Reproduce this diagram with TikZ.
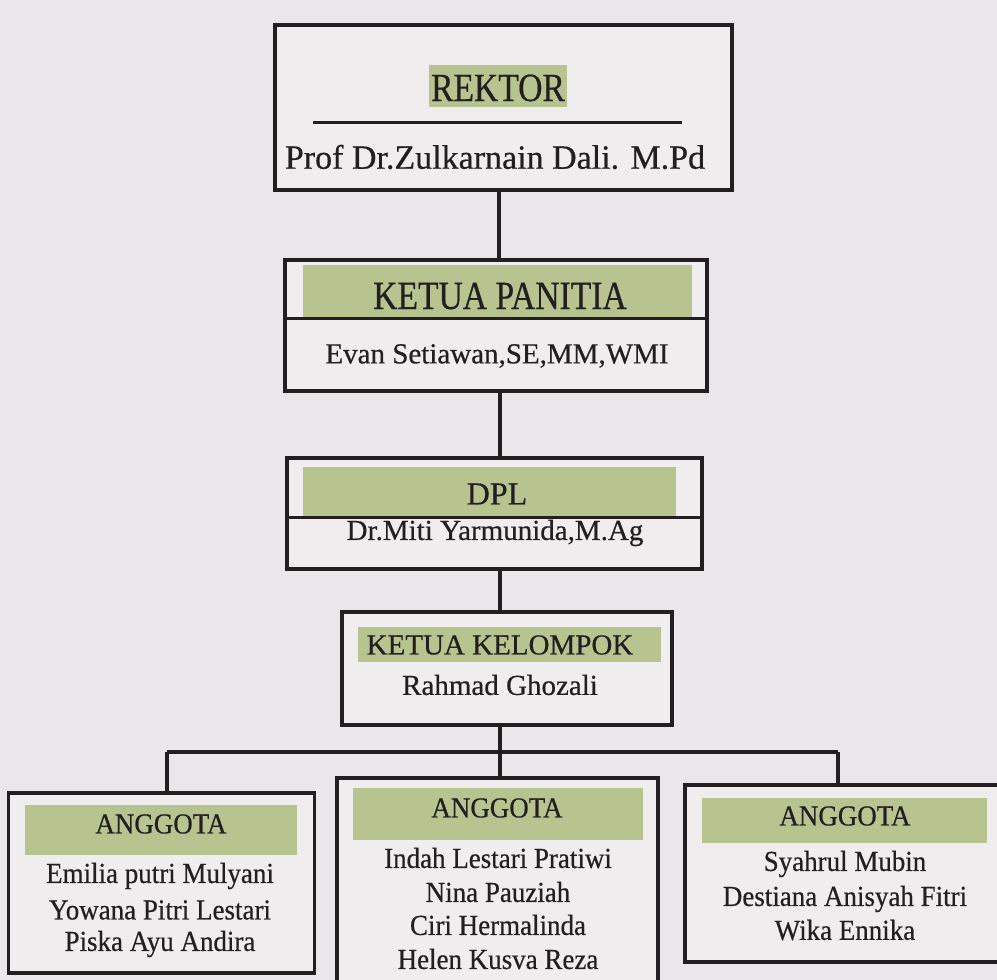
\documentclass[tikz,border=0pt]{standalone}
\usepackage{fontspec}
\setmainfont[FakeBold=0.5]{Liberation Serif}
\newfontfamily\narrowfont[FakeStretch=0.84,FakeBold=0.5]{Liberation Serif}
\newfontfamily\nameserif[FakeStretch=0.93,FakeBold=0.5]{Liberation Serif}
\definecolor{paper}{HTML}{EAE6E9}
\definecolor{paperlight}{HTML}{EFEDEE}
\definecolor{bandgreen}{HTML}{B8C490}
\definecolor{ink}{HTML}{231E20}
\begin{document}
\begin{tikzpicture}[x=1pt,y=-1pt,
  box/.style={draw=ink, line width=3.5pt, fill=paperlight, inner sep=0pt},
  band/.style={fill=bandgreen, draw=none, inner sep=0pt},
  conn/.style={draw=ink, line width=3.5pt},
  txt/.style={text=ink, inner sep=0pt},
  big/.style={txt, font=\fontsize{34}{40}\selectfont},
  mid/.style={txt, font=\fontsize{29}{34}\selectfont},
  small/.style={txt, font=\nameserif\fontsize{29}{32}\selectfont}]
\useasboundingbox (0,0) rectangle (997,980);
\fill[paper] (0,0) rectangle (997,980);
\clip (0,0) rectangle (997,980);

% REKTOR
\node[box, minimum width=457pt, minimum height=165pt] (rek) at (503.5,107.5) {};
\node[band, minimum width=138pt, minimum height=42pt] (rekband) at (498,86) {};
\node[txt, font=\narrowfont\fontsize{40}{44}\selectfont] (rektitle) at (498,88) {REKTOR};
\coordinate (ulA) at (313,122);
\coordinate (ulB) at (682,122);
\draw[conn, line width=3pt] (ulA) -- (ulB);
\node[big] (rekname) at (495,157) {Prof Dr.Zulkarnain Dali. M.Pd};

% KETUA PANITIA
\node[box, minimum width=422pt, minimum height=131pt] (kp) at (496,325.5) {};
\node[band, minimum width=389pt, minimum height=55pt] (kpband) at (497.5,292.5) {};
\coordinate (kpdl) at (285,318);
\coordinate (kpdr) at (707,318);
\draw[conn, line width=3pt] (kpdl) -- (kpdr);
\node[txt, font=\narrowfont\fontsize{40}{44}\selectfont] (kptitle) at (500,296) {KETUA PANITIA};
\node[mid] (kpname) at (497,356) {Evan Setiawan,SE,MM,WMI};

% DPL
\node[box, minimum width=415pt, minimum height=111pt] (dpl) at (494.5,513.5) {};
\node[band, minimum width=373pt, minimum height=50pt] (dplband) at (489.5,492) {};
\coordinate (dpdl) at (287,517);
\coordinate (dpdr) at (702,517);
\draw[conn, line width=3pt] (dpdl) -- (dpdr);
\node[big, font=\fontsize{32}{38}\selectfont] (dpltitle) at (497,494) {DPL};
\node[mid] (dplname) at (495,533) {Dr.Miti Yarmunida,M.Ag};

% KETUA KELOMPOK
\node[box, minimum width=330pt, minimum height=113pt] (kk) at (507,668.5) {};
\node[band, minimum width=303pt, minimum height=35pt] (kkband) at (509.5,644.5) {};
\node[mid] (kktitle) at (500,645) {KETUA KELOMPOK};
\node[mid] (kkname) at (500,685) {Rahmad Ghozali};

% ANGGOTA boxes
\node[box, minimum width=306pt, minimum height=180pt] (a1) at (161.5,883) {};
\node[box, minimum width=321pt, minimum height=210pt] (a2) at (497.5,883) {};
\node[box, minimum width=320pt, minimum height=177pt] (a3) at (845,873.5) {};

\node[band, minimum width=272pt, minimum height=50pt] (a1band) at (161,830) {};
\node[band, minimum width=290pt, minimum height=52pt] (a2band) at (498,814) {};
\node[band, minimum width=285pt, minimum height=45pt] (a3band) at (844.5,820.5) {};

\node[small] (a1title) at (161,824) {ANGGOTA};
\node[small] (a2title) at (497,808) {ANGGOTA};
\node[small] (a3title) at (845,816) {ANGGOTA};

\node[small] (a1n1) at (160,876) {Emilia putri Mulyani};
\node[small] (a1n2) at (160,910) {Yowana Pitri Lestari};
\node[small] (a1n3) at (160,944) {Piska Ayu Andira};

\node[small] (a2n1) at (498,858) {Indah Lestari Pratiwi};
\node[small] (a2n2) at (498,892) {Nina Pauziah};
\node[small] (a2n3) at (498,925) {Ciri Hermalinda};
\node[small] (a2n4) at (498,959) {Helen Kusva Reza};

\node[small] (a3n1) at (845,864) {Syahrul Mubin};
\node[small] (a3n2) at (845,899) {Destiana Anisyah Fitri};
\node[small] (a3n3) at (845,930) {Wika Ennika};

% connectors
\draw[conn] (rek.south -| 499,0) -- (kp.north -| 499,0);
\draw[conn] (kp.south -| 500,0) -- (dpl.north -| 500,0);
\draw[conn] (dpl.south -| 500,0) -- (kk.north -| 500,0);
\coordinate (barL) at (167,752);
\coordinate (barM) at (500,752);
\coordinate (barR) at (838,752);
\draw[conn] (kk.south -| barM) -- (barM);
\draw[conn] (barL) -- (barR);
\draw[conn] (barL) -- (a1.north -| barL);
\draw[conn] (barM) -- (a2.north -| barM);
\draw[conn] (barR) -- (a3.north -| barR);
\end{tikzpicture}
\end{document}
